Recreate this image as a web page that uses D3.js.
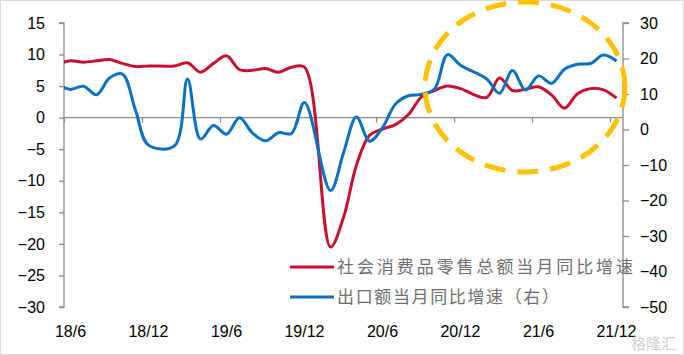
<!DOCTYPE html>
<html>
<head>
<meta charset="utf-8">
<script src="https://cdn.jsdelivr.net/npm/d3@7/dist/d3.min.js"></script>
<style>
  html, body { margin: 0; padding: 0; background: #fff; }
  svg { display: block; }
</style>
</head>
<body>
<svg id="chart" width="684" height="355"></svg>
<script>
// ---- data ----
const months = ["18/5","18/6","18/7","18/8","18/9","18/10","18/11","18/12",
  "19/1","19/2","19/3","19/4","19/5","19/6","19/7","19/8","19/9","19/10","19/11","19/12",
  "20/1","20/2","20/3","20/4","20/5","20/6","20/7","20/8","20/9","20/10","20/11","20/12",
  "21/1","21/2","21/3","21/4","21/5","21/6","21/7","21/8","21/9","21/10","21/11","21/12"];

// retail sales of consumer goods, monthly yoy (%), left axis
const retail = [8.5, 9.0, 8.8, 9.0, 9.2, 8.6, 8.1, 8.2,
  null, 8.2, 8.7, 7.2, 8.6, 9.8, 7.6, 7.5, 7.8, 7.2, 8.0, 8.0,
  null, -20.5, -15.8, -7.5, -2.8, -1.8, -1.1, 0.5, 3.3, 4.3, 5.0, 4.6,
  null, 3.2, 6.3, 4.3, 4.5, 4.9, 3.6, 1.5, 3.8, 4.6, 4.4, 3.1];

// exports, monthly yoy (%), right axis
const exportsYoy = [12.6, 11.3, 12.2, 9.8, 14.5, 15.6, 5.4, -4.4,
  null, -4.6, 14.2, -2.7, 1.1, -1.3, 3.3, -1.0, -3.2, -0.9, -1.1, 7.6,
  null, -17.2, -6.6, 3.5, -3.3, 0.5, 7.2, 9.5, 9.9, 11.4, 21.1, 18.1,
  null, 14.3, 10.2, 16.6, 11.1, 15.1, 13.0, 17.0, 18.4, 18.6, 21.0, 19.3];

const xTickLabels = ["18/6","18/12","19/6","19/12","20/6","20/12","21/6","21/12"];
const leftTicks = [15, 10, 5, 0, -5, -10, -15, -20, -25, -30];
const rightTicks = [30, 20, 10, 0, -10, -20, -30, -40, -50];
const seriesNames = ["社会消费品零售总额当月同比增速", "出口额当月同比增速（右）"];

// ---- layout ----
const W = 684, H = 355;
const plot = { left: 64, right: 623, top: 23, bottom: 307 };
const colors = { red: "#c8102e", blue: "#0a70c2", axis: "#8c8c8c", ring: "#ffc000" };

const svg = d3.select("#chart");

const x = d3.scaleLinear().domain([0.5, months.length - 0.5]).range([plot.left, plot.right]);
const yL = d3.scaleLinear().domain([-30, 15]).range([plot.bottom, plot.top]);
const yR = d3.scaleLinear().domain([-50, 30]).range([plot.bottom, plot.top]);

svg.append("rect").attr("x", 0.5).attr("y", 0.5).attr("width", W - 1).attr("height", H - 1)
  .attr("fill", "#fff").attr("stroke", "#d9d9d9");

svg.append("defs").append("clipPath").attr("id", "plotclip")
  .append("rect").attr("x", plot.left).attr("y", 0).attr("width", plot.right - plot.left).attr("height", H);

const numFont = "'Liberation Sans', Arial, sans-serif";
const cjkFont = "'Noto Sans CJK SC', 'Noto Sans', sans-serif";

// left axis
const leftAxis = d3.axisLeft(yL).tickValues(leftTicks).tickSize(5).tickPadding(14).tickFormat(d3.format("d"));
const gL = svg.append("g").attr("transform", `translate(${plot.left},0)`).call(leftAxis);
gL.select(".domain").attr("stroke", colors.axis).attr("stroke-width", 1.3).attr("d", `M-5,${plot.top}H0V${plot.bottom}H-5`);
gL.selectAll(".tick line").attr("stroke", colors.axis).attr("stroke-width", 1.3);
gL.selectAll(".tick text").attr("font-family", numFont).attr("font-size", 16).attr("fill", "#000");

// right axis
const rightAxis = d3.axisRight(yR).tickValues(rightTicks).tickSize(6).tickPadding(11).tickFormat(d3.format("d"));
const gR = svg.append("g").attr("transform", `translate(${plot.right},0)`).call(rightAxis);
gR.select(".domain").attr("stroke", colors.axis).attr("stroke-width", 1.3).attr("d", `M6,${plot.top}H0V${plot.bottom}H6`);
gR.selectAll(".tick line").attr("stroke", colors.axis).attr("stroke-width", 1.3);
gR.selectAll(".tick text").attr("font-family", numFont).attr("font-size", 16).attr("fill", "#000");

// category axis on zero line
const zeroY = yL(0);
const tickIdx = xTickLabels.map(l => months.indexOf(l));
const bottomAxis = d3.axisBottom(x).tickValues(tickIdx.map(i => i - 0.5)).tickSize(5).tickFormat("");
const gX = svg.append("g").attr("transform", `translate(0,${zeroY})`).call(bottomAxis);
gX.select(".domain").attr("stroke", colors.axis).attr("stroke-width", 1.3).attr("d", `M${plot.left},0H${plot.right}`);
gX.selectAll(".tick line").attr("stroke", colors.axis).attr("stroke-width", 1.3);

// x labels at bottom
svg.append("g").selectAll("text").data(xTickLabels).join("text")
  .attr("x", d => x(months.indexOf(d)))
  .attr("y", 337)
  .attr("text-anchor", "middle")
  .attr("font-family", numFont).attr("font-size", 16).attr("fill", "#000")
  .text(d => d);

// lines
function pts(vals) {
  return vals.map((v, i) => ({ i, v })).filter(d => d.v !== null);
}
const lineL = d3.line().x(d => x(d.i)).y(d => yL(d.v)).curve(d3.curveCatmullRom.alpha(0.5));
const lineR = d3.line().x(d => x(d.i)).y(d => yR(d.v)).curve(d3.curveCatmullRom.alpha(0.5));

const gLines = svg.append("g").attr("clip-path", "url(#plotclip)");
gLines.append("path").attr("d", lineL(pts(retail))).attr("fill", "none")
  .attr("stroke", colors.red).attr("stroke-width", 3).attr("stroke-linejoin", "round");
gLines.append("path").attr("d", lineR(pts(exportsYoy))).attr("fill", "none")
  .attr("stroke", colors.blue).attr("stroke-width", 3).attr("stroke-linejoin", "round");

// legend
const legend = [
  { name: seriesNames[0], color: colors.red, y: 267, len: 296 },
  { name: seriesNames[1], color: colors.blue, y: 297, len: 222 }
];
const gLeg = svg.append("g");
gLeg.selectAll("line").data(legend).join("line")
  .attr("x1", 290).attr("x2", 334).attr("y1", d => d.y).attr("y2", d => d.y)
  .attr("stroke", d => d.color).attr("stroke-width", 3);
gLeg.selectAll("text").data(legend).join("text")
  .attr("x", 337).attr("y", d => d.y + 6)
  .attr("font-family", cjkFont).attr("font-size", 17).attr("fill", "#6e6e6e")
  .attr("textLength", d => d.len).attr("lengthAdjust", "spacing")
  .text(d => d.name);

// highlight ring
svg.append("ellipse").attr("cx", 525).attr("cy", 87).attr("rx", 100).attr("ry", 85)
  .attr("fill", "none").attr("stroke", colors.ring).attr("stroke-width", 5)
  .attr("stroke-dasharray", "21,12");

// watermark
svg.append("text").attr("x", 676).attr("y", 349).attr("text-anchor", "end")
  .attr("font-family", cjkFont).attr("font-size", 15).attr("fill", "#d0d0d0")
  .text("格隆汇");
</script>
</body>
</html>
